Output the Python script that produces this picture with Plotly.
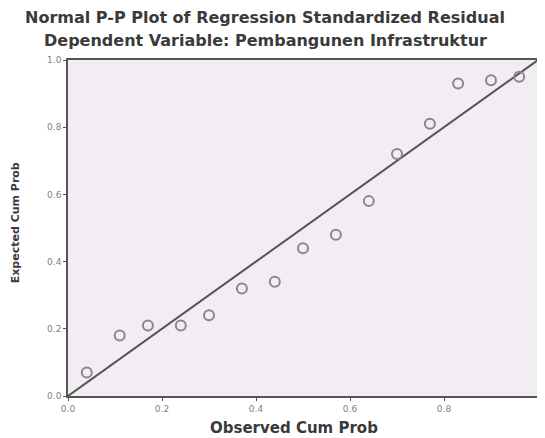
import plotly.graph_objects as go

observed = [0.04, 0.11, 0.17, 0.24, 0.30, 0.37, 0.44, 0.50, 0.57, 0.64, 0.70, 0.77, 0.83, 0.90, 0.96]
expected = [0.07, 0.18, 0.21, 0.21, 0.24, 0.32, 0.34, 0.44, 0.48, 0.58, 0.72, 0.81, 0.93, 0.94, 0.95]
diag = [0.0, 1.0]
tick_vals = [0.0, 0.2, 0.4, 0.6, 0.8, 1.0]
tick_text = ["0.0", "0.2", "0.4", "0.6", "0.8", "1.0"]

title1 = "Normal P-P Plot of Regression Standardized Residual"
title2 = "Dependent Variable: Pembangunen Infrastruktur"
xtitle = "Observed Cum Prob"
ytitle = "Expected Cum Prob"

fig = go.Figure()
fig.add_trace(go.Scatter(x=diag, y=diag, mode="lines",
                         line=dict(color="#555555", width=2), hoverinfo="skip"))
fig.add_trace(go.Scatter(x=observed, y=expected, mode="markers",
                         marker=dict(symbol="circle-open", size=10, color="#888888",
                                     line=dict(color="#888888", width=2))))

font_fam = "DejaVu Sans, Verdana, sans-serif"
axis_common = dict(range=[0, 1], tickvals=tick_vals, ticktext=tick_text,
                   showgrid=False, zeroline=False, showline=True, mirror=True,
                   linecolor="#555555", linewidth=1.5, ticks="outside", ticklen=3,
                   tickcolor="#555555", tickfont=dict(size=9, color="#808080", family=font_fam))
fig.update_layout(
    width=537, height=430,
    margin=dict(l=60, r=5, t=52, b=42),
    paper_bgcolor="white", plot_bgcolor="#f1edf3",
    showlegend=False,
    xaxis=axis_common,
    yaxis=axis_common,
    annotations=[
        dict(text="<b>" + title1 + "</b>", xref="paper", yref="paper", x=0.42, y=1.126,
             xanchor="center", yanchor="middle",
             showarrow=False, font=dict(size=16, color="#3a3a3a", family=font_fam)),
        dict(text="<b>" + title2 + "</b>", xref="paper", yref="paper", x=0.42, y=1.058,
             xanchor="center", yanchor="middle",
             showarrow=False, font=dict(size=16, color="#3a3a3a", family=font_fam)),
        dict(text="<b>" + xtitle + "</b>", xref="paper", yref="paper", x=0.48, y=-0.095,
             xanchor="center", yanchor="middle",
             showarrow=False, font=dict(size=15, color="#3a3a3a", family=font_fam)),
        dict(text="<b>" + ytitle + "</b>", xref="paper", yref="paper", x=-0.11, y=0.515,
             xanchor="center", yanchor="middle",
             textangle=-90, showarrow=False, font=dict(size=11, color="#3a3a3a", family=font_fam)),
    ],
)
fig.write_html("out.html")
